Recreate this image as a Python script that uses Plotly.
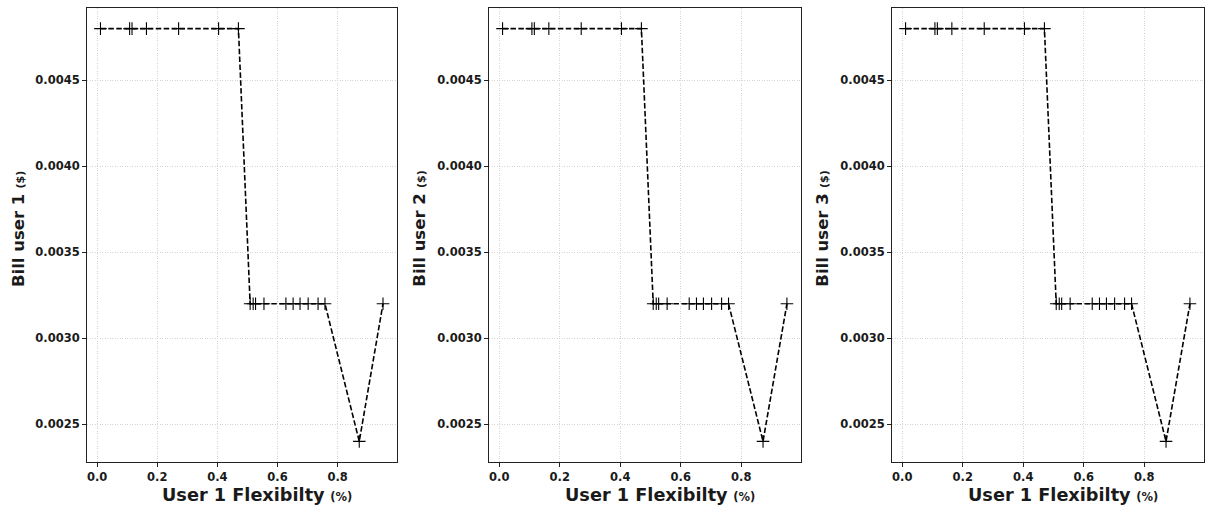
import plotly.graph_objects as go

# Flexibility share of user 1 (sorted) and resulting bills for each user
flexibility = [0.011, 0.108, 0.116, 0.164, 0.271, 0.404, 0.470,
               0.509, 0.519, 0.527, 0.555, 0.628, 0.652, 0.675, 0.702, 0.735, 0.758,
               0.872, 0.951]
bill_user1 = [0.0048] * 7 + [0.0032] * 10 + [0.0024, 0.0032]
bill_user2 = [0.0048] * 7 + [0.0032] * 10 + [0.0024, 0.0032]
bill_user3 = [0.0048] * 7 + [0.0032] * 10 + [0.0024, 0.0032]

bills = [bill_user1, bill_user2, bill_user3]
y_titles = ["Bill user 1", "Bill user 2", "Bill user 3"]
x_title = "User 1 Flexibilty"

x_ticks = [0.0, 0.2, 0.4, 0.6, 0.8]
y_ticks = [0.0025, 0.0030, 0.0035, 0.0040, 0.0045]

FONT = "DejaVu Sans"
domains = [[0.0, 0.2775], [0.3599, 0.6392], [0.7207, 1.0]]

fig = go.Figure()
annotations = []
for i, (bill, ytitle) in enumerate(zip(bills, y_titles)):
    n = "" if i == 0 else str(i + 1)
    fig.add_trace(go.Scatter(
        x=flexibility, y=bill, mode="lines+markers",
        line=dict(color="black", width=1.6, dash="5.5px,2.4px"),
        marker=dict(symbol="cross-thin", size=9, line=dict(color="black", width=1.1)),
        xaxis="x" + n, yaxis="y" + n, showlegend=False,
    ))
    axis_common = dict(
        showline=True, mirror=True, linecolor="#222", linewidth=1,
        ticks="outside", ticklen=4, tickwidth=1, tickcolor="#222",
        showgrid=True, gridcolor="#d4d4d4", gridwidth=0.7, griddash="1px,1.5px",
        zeroline=False,
        tickfont=dict(family=FONT, size=11.5, color="#1a1a1a", weight="bold"),
    )
    fig.update_layout(**{
        "xaxis" + n: dict(domain=domains[i], range=[-0.0338, 0.9975],
                          tickvals=x_ticks, ticktext=[f"{v:.1f}" for v in x_ticks],
                          anchor="y" + n, **axis_common),
        "yaxis" + n: dict(domain=[0, 1], range=[0.00228, 0.00492],
                          tickvals=y_ticks, ticktext=[f"{v:.4f}" for v in y_ticks],
                          anchor="x" + n, **axis_common),
    })
    xr = "x" + n + " domain"
    yr = "y" + n + " domain"
    annotations.append(dict(
        xref=xr, yref=yr, x=-0.2226, y=0.513, xanchor="center", yanchor="middle",
        textangle=-90, showarrow=False,
        text=f"<b>{ytitle}</b> <span style='font-size:11px'><b>($)</b></span>",
        font=dict(family=FONT, size=16.5, color="#1a1a1a"),
    ))
    annotations.append(dict(
        xref=xr, yref=yr, x=0.548, y=-0.0727, xanchor="center", yanchor="middle",
        showarrow=False,
        text=f"<b>{x_title}</b> <span style='font-size:11.5px'><b>(%)</b></span>",
        font=dict(family=FONT, size=17.7, color="#1a1a1a"),
    ))

fig.update_layout(
    width=1205, height=509,
    margin=dict(l=87, r=1, t=8, b=47),
    paper_bgcolor="white", plot_bgcolor="white",
    annotations=annotations,
)

fig.write_html("out.html")
